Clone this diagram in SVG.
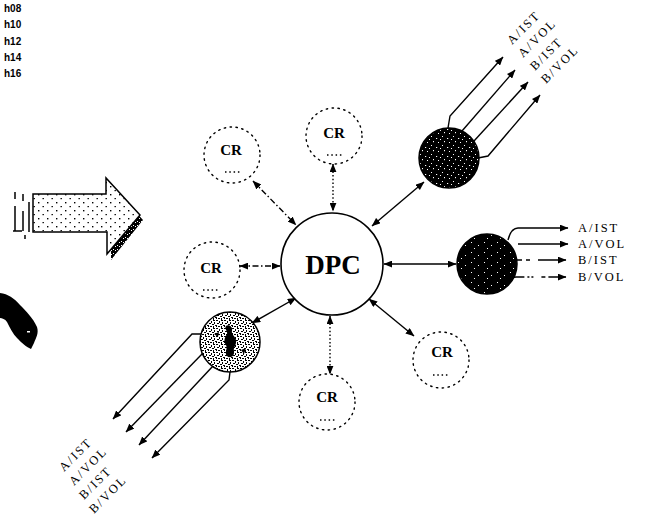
<svg xmlns="http://www.w3.org/2000/svg" width="669" height="518" viewBox="0 0 669 518">
<style>
.hr{font-family:"Liberation Sans",Arial,sans-serif;font-weight:bold;font-size:10px;fill:#000}
.cr{font-family:"Liberation Serif","Times New Roman",serif;font-weight:bold;font-size:15px;fill:#000;text-anchor:middle}
.dpc{font-family:"Liberation Serif","Times New Roman",serif;font-weight:bold;font-size:27px;fill:#000;text-anchor:middle}
.lbl{font-family:"Liberation Serif","Times New Roman",serif;font-size:12.5px;fill:#000;letter-spacing:2px}
.ring{fill:#fff;stroke:#000;stroke-width:1.4;stroke-dasharray:1.4 4.5;stroke-linecap:round}
.tail{fill:none;stroke:#000;stroke-width:1.4;stroke-dasharray:1.5 2.8}
.link{fill:none;stroke:#000;stroke-width:1.4;marker-start:url(#ah);marker-end:url(#ah)}
.dashdot{stroke-dasharray:6 2.5 1.5 2.5}
.dotted{stroke-dasharray:1.5 2.2}
.out{fill:none;stroke:#000;stroke-width:1.4;marker-end:url(#ah)}
.node{stroke:#000;stroke-width:1.5}
</style>
<defs>
<marker id="ah" viewBox="0 0 10 8" refX="9.5" refY="4" markerWidth="9" markerHeight="7" markerUnits="userSpaceOnUse" orient="auto-start-reverse">
<path d="M0,0 L10,4 L0,8 Z" fill="#000"/>
</marker>
<pattern id="darkSpeck" width="11" height="9" patternUnits="userSpaceOnUse">
<rect width="11" height="9" fill="#000"/>
<rect x="2" y="1" width="1" height="1" fill="#fff"/>
<rect x="7" y="3" width="1.2" height="1" fill="#fff"/>
<rect x="4" y="6" width="1" height="1.2" fill="#fff"/>
<rect x="9" y="7" width="1" height="1" fill="#fff"/>
<rect x="0" y="4" width="1" height="1" fill="#fff"/>
</pattern>
<pattern id="darkSpeck2" width="13" height="10" patternUnits="userSpaceOnUse">
<rect width="13" height="10" fill="#000"/>
<rect x="3" y="2" width="1" height="1" fill="#fff"/>
<rect x="10" y="5" width="1" height="1" fill="#fff"/>
<rect x="6" y="8" width="1" height="1" fill="#fff"/>
</pattern>
<pattern id="lightSpeck" width="8" height="8" patternUnits="userSpaceOnUse">
<rect width="8" height="8" fill="#fff"/>
<rect x="0" y="0" width="2" height="1" fill="#000"/>
<rect x="3" y="1" width="1" height="2" fill="#000"/>
<rect x="5" y="0" width="2" height="1" fill="#000"/>
<rect x="6" y="2" width="1" height="2" fill="#000"/>
<rect x="1" y="3" width="2" height="1" fill="#000"/>
<rect x="4" y="4" width="2" height="1" fill="#000"/>
<rect x="0" y="5" width="1" height="2" fill="#000"/>
<rect x="2" y="6" width="2" height="1" fill="#000"/>
<rect x="5" y="6" width="1" height="2" fill="#000"/>
<rect x="7" y="5" width="1" height="1" fill="#000"/>
</pattern>
<pattern id="arrowDots" width="9" height="8" patternUnits="userSpaceOnUse">
<rect width="9" height="8" fill="#fff"/>
<rect x="2" y="2" width="1.4" height="1.4" fill="#000"/>
<rect x="6.5" y="6" width="1.4" height="1.2" fill="#000"/>
</pattern>
<pattern id="shadeDots" width="4" height="4" patternUnits="userSpaceOnUse">
<rect width="4" height="4" fill="#000"/>
<rect x="1" y="1" width="1" height="1" fill="#fff"/>
<rect x="3" y="2" width="1" height="1" fill="#fff"/>
</pattern>
</defs>
<rect width="669" height="518" fill="#fff"/>

<!-- hour list, top left -->
<g id="hours">
<text class="hr" x="4" y="12">h08</text>
<text class="hr" x="4" y="28">h10</text>
<text class="hr" x="4" y="45">h12</text>
<text class="hr" x="4" y="61">h14</text>
<text class="hr" x="4" y="77">h16</text>
</g>

<!-- big hollow arrow with drop shadow -->
<g id="bigArrow">
<polygon points="37,237 110,237 110,183 143,220 111,260 111,237" fill="url(#shadeDots)"/>
<polygon points="33,194 106,194 106,178 140,215 107,254 107,232 33,232" fill="url(#arrowDots)" stroke="#000" stroke-width="1.5"/>
<path d="M15,192 V199 M15,206 V231 M23,194 V201 M23,211 V231 M29,202 V232 M13,231 H22 M25,235 V239" fill="none" stroke="#000" stroke-width="1.5"/>
</g>

<!-- dark silhouette at left edge -->
<g id="blob">
<path d="M0,293 C8,294 14,298 20,305 C26,311 33,318 37,327 C39,333 36,338 34,343 L31,349 C26,347 21,342 17,338 C13,334 10,328 7,322 C5,319 2,318 0,318 Z" fill="#000"/>
<rect x="27" y="331" width="3" height="1.5" fill="#fff"/>
</g>

<!-- connectors -->
<g id="connectors">
<path id="c-topleft" class="link dashdot" d="M253,181 L296,225"/>
<path id="c-top" class="link dotted" d="M333,164 L333,211"/>
<path id="c-left" class="link dashdot" d="M240,266 L280,266"/>
<path id="c-upright" class="link" d="M372,226 L424,182"/>
<path id="c-right" class="link" d="M384,264 L456,264"/>
<path id="c-lowleft" class="link" d="M296,298 L252,323"/>
<path id="c-lowright" class="link" d="M369,299 L414,336"/>
<path id="c-bottom" class="link dotted" d="M330,316 L330,374"/>

<!-- outputs of upper-right node -->
<path class="out" d="M448,128 L450,116 L503,57"/>
<path class="out" d="M462,131 L515,70"/>
<path class="out" d="M474,141 L528,82"/>
<path class="out" d="M478,158 L488,156 L540,95"/>

<!-- outputs of right node -->
<path class="out" d="M508,240 Q511,228 518,228 L568,228"/>
<path class="out" d="M518,244 L568,244"/>
<path class="out" d="M517,260 L566,260" stroke-dasharray="5 4 4 8 80"/>
<path class="out" d="M507,286 Q510,277 516,277 L566,277" stroke-dasharray="22 3 2 2 2 8 4 3 100"/>

<!-- outputs of lower-left node -->
<path class="out" d="M201,334 L192,334 L113,419"/>
<path class="out" d="M203,353 L126,432"/>
<path class="out" d="M213,366 L139,445"/>
<path class="out" d="M230,372 L229,380 L152,458"/>
</g>

<!-- central node -->
<g id="dpc">
<circle cx="332" cy="264" r="51" fill="#fff" stroke="#000" stroke-width="1.6"/>
<text class="dpc" x="333" y="274">DPC</text>
</g>

<!-- CR nodes -->
<g id="cr-topleft">
<circle class="ring" cx="232" cy="155" r="28"/>
<text class="cr" x="231" y="155">CR</text>
<path class="tail" d="M225,172 H240"/>
</g>
<g id="cr-top">
<circle class="ring" cx="334" cy="136" r="28"/>
<text class="cr" x="334" y="138">CR</text>
<path class="tail" d="M327,155 H342"/>
</g>
<g id="cr-left">
<circle class="ring" cx="212" cy="270" r="28"/>
<text class="cr" x="211" y="273">CR</text>
<path class="tail" d="M203,290 H218"/>
</g>
<g id="cr-lowright">
<circle class="ring" cx="441" cy="360" r="28"/>
<text class="cr" x="442" y="357">CR</text>
<path class="tail" d="M433,375 H448"/>
</g>
<g id="cr-bottom">
<circle class="ring" cx="327" cy="402" r="28"/>
<text class="cr" x="327" y="402">CR</text>
<path class="tail" d="M320,420 H335"/>
</g>

<!-- speckled nodes -->
<g id="node-upright">
<circle class="node" cx="449" cy="158" r="30" fill="url(#darkSpeck)"/>
</g>
<g id="node-right">
<circle class="node" cx="487" cy="264" r="30" fill="url(#darkSpeck2)"/>
</g>
<g id="node-lowleft">
<circle class="node" cx="230" cy="342" r="30" fill="url(#lightSpeck)"/>
<path d="M226,326 C229,324 233,327 232,331 C231,334 235,336 236,340 C237,345 233,347 234,351 C235,356 230,359 227,356 C224,353 228,349 226,345 C223,341 225,337 227,334 C228,331 224,329 226,326 Z" fill="#000"/>
<path d="M214,334 L219,332 L218,337 Z M241,350 L246,348 L244,354 Z" fill="#000"/>
</g>

<!-- upper-right labels -->
<g id="labels-upright">
<text class="lbl" transform="translate(512,45) rotate(-45)">A/IST</text>
<text class="lbl" transform="translate(523,58) rotate(-45)">A/VOL</text>
<text class="lbl" transform="translate(535,71) rotate(-45)">B/IST</text>
<text class="lbl" transform="translate(546,84) rotate(-45)">B/VOL</text>
</g>

<!-- right labels -->
<g id="labels-right">
<text class="lbl" x="578" y="232">A/IST</text>
<text class="lbl" x="578" y="248">A/VOL</text>
<text class="lbl" x="578" y="264">B/IST</text>
<text class="lbl" x="578" y="281">B/VOL</text>
</g>

<!-- lower-left labels -->
<g id="labels-lowleft">
<text class="lbl" transform="translate(64,472) rotate(-45)">A/IST</text>
<text class="lbl" transform="translate(74,486) rotate(-45)">A/VOL</text>
<text class="lbl" transform="translate(84,500) rotate(-45)">B/IST</text>
<text class="lbl" transform="translate(94,514) rotate(-45)">B/VOL</text>
</g>
</svg>
